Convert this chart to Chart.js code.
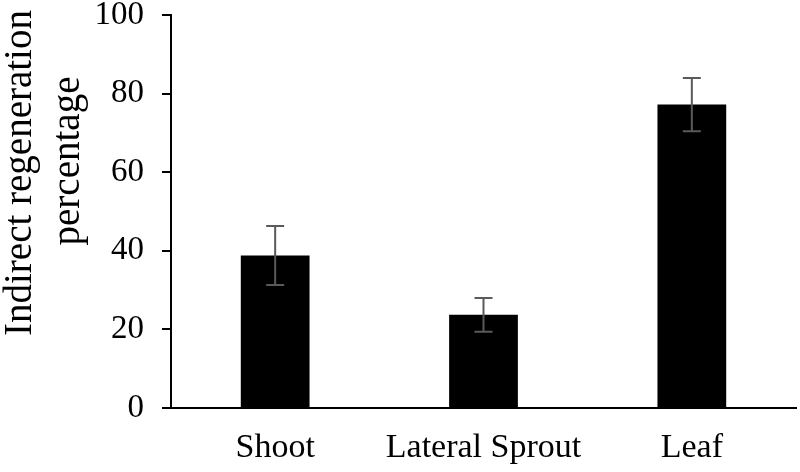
<!DOCTYPE html>
<html>
<head>
<meta charset="utf-8">
<script src="https://cdn.jsdelivr.net/npm/chart.js@4"></script>
<style>
  body { margin: 0; background: #fff; }
  canvas { display: block; }
</style>
</head>
<body>
<canvas id="regenChart" width="800" height="472"></canvas>
<script>
// data
const categories = ["Shoot", "Lateral Sprout", "Leaf"];
const means = [38.8, 23.7, 77.2];
const errors = [7.5, 4.3, 6.8];
const yTicks = [0, 20, 40, 60, 80, 100];
const yTitle = ["Indirect regeneration", "percentage"];

const FONT = "'Liberation Serif', 'Times New Roman', serif";

// error bars drawn on top of the bars
const errorBarPlugin = {
  id: "errorBars",
  afterDatasetsDraw(chart) {
    const ctx = chart.ctx;
    const xScale = chart.scales.x;
    const yScale = chart.scales.y;
    ctx.save();
    ctx.strokeStyle = "#5a5a5a";
    ctx.lineWidth = 2;
    means.forEach((m, i) => {
      const x = xScale.getPixelForValue(i);
      const top = yScale.getPixelForValue(m + errors[i]);
      const bottom = yScale.getPixelForValue(m - errors[i]);
      ctx.beginPath();
      ctx.moveTo(x, top);
      ctx.lineTo(x, bottom);
      ctx.moveTo(x - 9, top);
      ctx.lineTo(x + 9, top);
      ctx.moveTo(x - 9, bottom);
      ctx.lineTo(x + 9, bottom);
      ctx.stroke();
    });
    ctx.restore();
  },
};

// y axis title, two lines, rotated
const yTitlePlugin = {
  id: "yTitle",
  afterDraw(chart) {
    const ctx = chart.ctx;
    ctx.save();
    ctx.translate(0, 173);
    ctx.rotate(-Math.PI / 2);
    ctx.fillStyle = "#000";
    ctx.font = "39px " + FONT;
    ctx.textAlign = "center";
    ctx.textBaseline = "alphabetic";
    ctx.fillText(yTitle[0], 0, 31);
    ctx.fillText(yTitle[1], 12, 79);
    ctx.restore();
  },
};

const ctx = document.getElementById("regenChart").getContext("2d");
new Chart(ctx, {
  type: "bar",
  data: {
    labels: categories,
    datasets: [
      {
        data: means,
        backgroundColor: "#000",
        borderWidth: 0,
        barPercentage: 0.33,
        categoryPercentage: 1,
      },
    ],
  },
  options: {
    responsive: false,
    animation: false,
    layout: { padding: { top: 15, right: 4, left: 0, bottom: 0 } },
    plugins: {
      legend: { display: false },
      tooltip: { enabled: false },
    },
    scales: {
      x: {
        grid: { display: false, drawTicks: false },
        border: { display: true, color: "#000", width: 2 },
        ticks: {
          color: "#000",
          font: { family: FONT, size: 34 },
          padding: 20,
        },
        afterFit: (scale) => {
          scale.height = 64;
        },
      },
      y: {
        min: 0,
        max: 100,
        afterBuildTicks: (scale) => {
          scale.ticks = yTicks.map((v) => ({ value: v }));
        },
        grid: {
          drawOnChartArea: false,
          drawTicks: true,
          tickLength: 9,
          color: "#000",
          lineWidth: 2,
        },
        border: { display: true, color: "#000", width: 2 },
        ticks: {
          color: "#000",
          font: { family: FONT, size: 33 },
          padding: 18,
        },
        afterFit: (scale) => {
          scale.width = 171;
          scale.paddingTop = 0;
          scale.paddingBottom = 0;
        },
      },
    },
  },
  plugins: [errorBarPlugin, yTitlePlugin],
});
</script>
</body>
</html>
